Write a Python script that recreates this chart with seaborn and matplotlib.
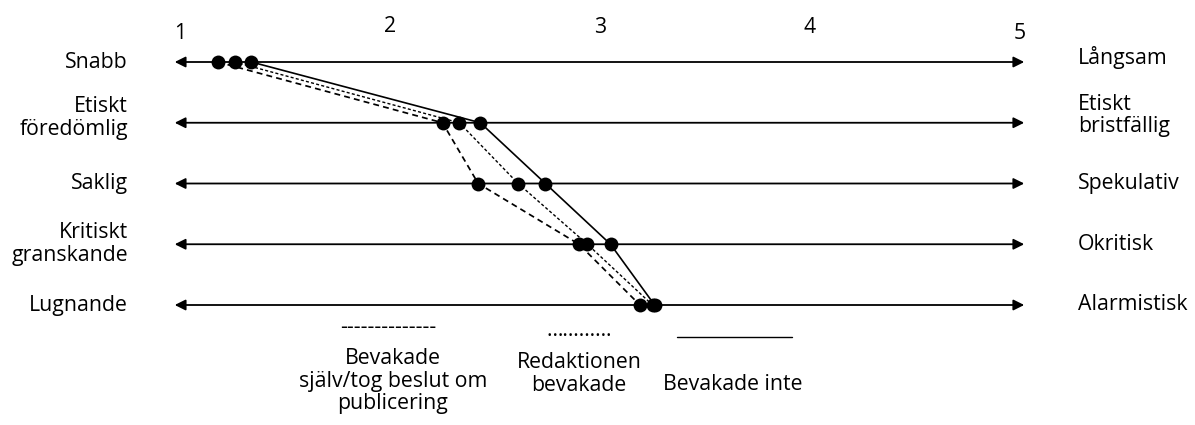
import matplotlib
matplotlib.use("Agg")
import matplotlib.pyplot as plt
from matplotlib.lines import Line2D
import seaborn as sns
import pandas as pd

# ---- data ----
left_labels = ["Snabb", "Etiskt\nföredömlig", "Saklig", "Kritiskt\ngranskande", "Lugnande"]
right_labels = ["Långsam", "Etiskt\nbristfällig", "Spekulativ", "Okritisk", "Alarmistisk"]
scale_ticks = [1, 2, 3, 4, 5]
series_names = ["Bevakade\nsjälv/tog beslut om\npublicering", "Redaktionen\nbevakade", "Bevakade inte"]
vals_sjalv = [1.18, 2.25, 2.42, 2.90, 3.19]
vals_redaktion = [1.26, 2.33, 2.61, 2.94, 3.25]
vals_inte = [1.34, 2.43, 2.74, 3.05, 3.26]
rows = list(range(len(left_labels)))

sns.set_theme(style="white")
plt.rcParams["font.family"] = ["Open Sans", "DejaVu Sans"]

W, H = 1195, 425
fig = plt.figure(figsize=(W / 100, H / 100), dpi=100)
ax = fig.add_axes([0, 0, 1, 1])
ax.set_xlim(1 - 180 / 210, 1 + (W - 180) / 210)
ax.set_ylim((H - 62) / 60.75, -62 / 60.75)
ax.axis("off")

FS = 15.3

# horizontal double arrows
for r in rows:
    ax.annotate("", xy=(0.975, r), xytext=(5.02, r),
                arrowprops=dict(arrowstyle="<|-|>", color="black", lw=1.3,
                                mutation_scale=16, shrinkA=0, shrinkB=0),
                zorder=1)

# scale numbers
num_offsets = [-0.47, -0.59, -0.56, -0.56, -0.47]
for t, off in zip(scale_ticks, num_offsets):
    ax.text(t, off, str(t), ha="center", va="center", fontsize=FS, color="black")

# pole labels
left_off = [0.0, -0.08, 0.0, 0.0, 0.0]
right_off = [-0.08, -0.12, 0.0, 0.0, 0.0]
for r, lab, lo, ro in zip(rows, left_labels, left_off, right_off):
    ax.text(1 + (128 - 180) / 210, r + lo, lab, ha="right", va="center",
            multialignment="right", fontsize=FS, color="black", linespacing=1.1)
    ax.text(1 + (1078 - 180) / 210, r + ro, right_labels[r], ha="left", va="center",
            multialignment="left", fontsize=FS, color="black", linespacing=1.1)

# series lines
styles = [(0, (3.4, 2.4)), (0, (2.2, 1.6)), "-"]
widths = [1.25, 1.0, 1.2]
for name, vals, ls, lw in zip(series_names, [vals_sjalv, vals_redaktion, vals_inte], styles, widths):
    df = pd.DataFrame({"value": vals, "row": rows})
    sns.lineplot(data=df, x="value", y="row", sort=False, estimator=None,
                 color="black", linewidth=lw, linestyle=ls, ax=ax, zorder=2)
    sns.scatterplot(data=df, x="value", y="row", color="black", s=100,
                    marker="o", edgecolor="black", linewidth=0, ax=ax, zorder=3)

ax.set_xlabel("")
ax.set_ylabel("")

# legend-like annotations
def fx(px):
    return px / W

def fy(py):
    return 1 - py / H

fig.text(fx(388), fy(328), "--------------", ha="center", va="center", fontsize=FS, color="black")
fig.text(fx(393), fy(381), series_names[0], ha="center", va="center", fontsize=FS,
         linespacing=1.1, color="black")
fig.text(fx(579), fy(330), "…………", ha="center", va="center", fontsize=FS, color="black")
fig.text(fx(579), fy(374), series_names[1], ha="center", va="center", fontsize=FS,
         linespacing=1.1, color="black")
fig.add_artist(Line2D([fx(677), fx(792)], [fy(337), fy(337)], color="black", lw=1.0))
fig.text(fx(733), fy(384), series_names[2], ha="center", va="center", fontsize=FS, color="black")

fig.savefig("out.png", dpi=100, facecolor="white")
